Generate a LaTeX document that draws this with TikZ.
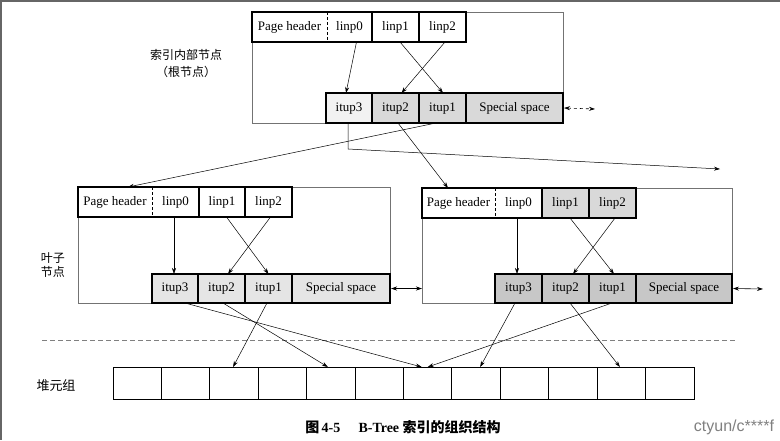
\documentclass[tikz,border=0pt]{standalone}
\usepackage{fontspec}
\setmainfont{Liberation Serif}
\newfontfamily\cjk{Noto Sans CJK SC}
\newfontfamily\wmfont{Liberation Sans}
\usetikzlibrary{arrows.meta}
\begin{document}
\begin{tikzpicture}[x=1pt,y=-1pt,
  cellbox/.style={draw, fill=white, line width=1.1pt, inner sep=0pt, outer sep=0pt, anchor=north west, minimum height=30pt, text height=9pt, text depth=3pt, font=\fontsize{13}{15}\selectfont},
  plaincell/.style={cellbox, draw=none},
  framebox/.style={draw=black!55, line width=0.6pt, inner sep=0pt, outer sep=0pt, anchor=north west},
  heapcell/.style={draw, line width=1pt, inner sep=0pt, outer sep=0pt, anchor=north west, minimum width=48.42pt, minimum height=32pt},
  arr/.style={line width=0.5pt, -{Stealth[length=6pt,width=4pt]}},
  dblarr/.style={line width=0.6pt, {Stealth[length=6pt,width=4pt]}-{Stealth[length=6pt,width=4pt]}},
  pairbox/.style={draw, line width=1.1pt},
  divider/.style={dashed, line width=0.5pt, dash pattern=on 3pt off 2pt},
  sepline/.style={draw=black!50, line width=0.6pt, dash pattern=on 5pt off 3pt},
  lab/.style={font=\cjk\fontsize{12}{14}\selectfont, inner sep=0pt},
  shA/.style={fill=black!15},
  shB/.style={fill=black!10},
  shC/.style={fill=black!22},
]
\useasboundingbox (0,0) rectangle (780,440);
\draw[black!60, line width=1.5pt] (0,0.75) -- (780,0.75);
\draw[black!60, line width=1.5pt] (0.75,0) -- (0.75,440);

% ---------- root (internal) node ----------
\node[framebox, minimum width=311pt, minimum height=111pt] (tframe) at (252,12) {};
\node[plaincell, minimum width=75pt] (t-ph) at (252,12) {Page header};
\node[plaincell, minimum width=45pt] (t-l0) at (327,12) {linp0};
\draw[pairbox] (t-ph.north west) rectangle (t-l0.south east);
\draw[divider] (t-l0.north west) -- (t-l0.south west);
\node[cellbox, minimum width=47pt] (t-l1) at (372,12) {linp1};
\node[cellbox, minimum width=47pt] (t-l2) at (419,12) {linp2};
\node[cellbox, minimum width=46pt, fill=black!5] (t-i3) at (326,93) {itup3};
\node[cellbox, minimum width=47pt, shA] (t-i2) at (372,93) {itup2};
\node[cellbox, minimum width=47pt, shA] (t-i1) at (419,93) {itup1};
\node[cellbox, minimum width=97pt, shA] (t-sp) at (466,93) {Special space};
\draw[arr] ([xshift=7pt]t-l0.south) -- ([xshift=-3pt]t-i3.north);
\draw[arr] ([xshift=4.5pt]t-l1.south) -- ([xshift=0.5pt]t-i1.north);
\draw[arr] ([xshift=2.5pt]t-l2.south) -- ([xshift=6pt]t-i2.north);
\coordinate (tout) at (595,109);
\draw[dblarr, dashed, dash pattern=on 3pt off 3pt] ([xshift=1pt]t-sp.east) -- (tout);
\node[lab] (tlab1) at (186,55) {索引内部节点};
\node[lab] (tlab2) at (186,72) {（根节点）};

% ---------- left leaf ----------
\node[framebox, minimum width=312pt, minimum height=116pt] (aframe) at (78,187) {};
\node[plaincell, minimum width=74pt] (a-ph) at (78,187) {Page header};
\node[plaincell, minimum width=47pt] (a-l0) at (152,187) {linp0};
\draw[pairbox] (a-ph.north west) rectangle (a-l0.south east);
\draw[divider] (a-l0.north west) -- (a-l0.south west);
\node[cellbox, minimum width=46pt] (a-l1) at (199,187) {linp1};
\node[cellbox, minimum width=47pt] (a-l2) at (245,187) {linp2};
\node[cellbox, minimum width=46pt, minimum height=29pt, shB] (a-i3) at (152,274) {itup3};
\node[cellbox, minimum width=47pt, minimum height=29pt, shB] (a-i2) at (198,274) {itup2};
\node[cellbox, minimum width=47pt, minimum height=29pt, shB] (a-i1) at (245,274) {itup1};
\node[cellbox, minimum width=98pt, minimum height=29pt, shB] (a-sp) at (292,274) {Special space};
\draw[arr] ([xshift=-1.5pt]a-l0.south) -- ([xshift=-1pt]a-i3.north);
\draw[arr] ([xshift=4.5pt]a-l1.south) -- ([xshift=0pt]a-i1.north);
\draw[arr] ([xshift=2pt]a-l2.south) -- ([xshift=6.5pt]a-i2.north);
\node[lab, align=center] (alab) at (53,265) {叶子\\节点};

% ---------- right leaf ----------
\node[framebox, minimum width=310pt, minimum height=115pt] (bframe) at (422,188) {};
\node[plaincell, minimum width=73pt] (b-ph) at (422,188) {Page header};
\node[plaincell, minimum width=47pt] (b-l0) at (495,188) {linp0};
\draw[pairbox] (b-ph.north west) rectangle (b-l0.south east);
\draw[divider] (b-l0.north west) -- (b-l0.south west);
\node[cellbox, minimum width=47pt, shA] (b-l1) at (542,188) {linp1};
\node[cellbox, minimum width=47pt, shA] (b-l2) at (589,188) {linp2};
\node[cellbox, minimum width=47pt, minimum height=29pt, shC] (b-i3) at (495,274) {itup3};
\node[cellbox, minimum width=47pt, minimum height=29pt, shC] (b-i2) at (542,274) {itup2};
\node[cellbox, minimum width=47pt, minimum height=29pt, shC] (b-i1) at (589,274) {itup1};
\node[cellbox, minimum width=96pt, minimum height=29pt, shC] (b-sp) at (636,274) {Special space};
\draw[arr] ([xshift=-1.5pt]b-l0.south) -- ([xshift=-1.5pt]b-i3.north);
\draw[arr] ([xshift=4.5pt]b-l1.south) -- ([xshift=1.5pt]b-i1.north);
\draw[arr] ([xshift=2.5pt]b-l2.south) -- ([xshift=7.5pt]b-i2.north);
\coordinate (bout) at (763,289);
\draw[dblarr] ([xshift=1pt]b-sp.east) -- (bout);

% left leaf <-> right leaf
\draw[dblarr] ([xshift=1pt]a-sp.east) -- (a-sp.east -| bframe.west);

% ---------- root -> leaves ----------
\draw[arr] ([xshift=-6.5pt]t-i1.south) -- ([xshift=13pt]a-ph.north);
\draw[arr] ([xshift=2.5pt]t-i2.south) -- ([xshift=-10.5pt]b-ph.north);
\coordinate (tfar) at (720,169);
\draw[arr] ([xshift=-1pt]t-i3.south) -- ++(0,26) -- (tfar);

% ---------- separator ----------
\coordinate (sepL) at (42,340);
\coordinate (sepR) at (737,340);
\draw[sepline] (sepL) -- (sepR);

% ---------- heap tuples ----------
\foreach \i in {1,...,12} {
  \node[heapcell] (h\i) at ({113+(\i-1)*48.42},367) {};
}
\node[lab, font=\cjk\fontsize{13}{15}\selectfont] (hlab) at (56,386) {堆元组};

% leaf -> heap
\draw[arr] ([xshift=10pt]a-i3.south) -- ([xshift=-6pt]h7.north);
\draw[arr] ([xshift=1.5pt]a-i2.south) -- ([xshift=-3pt]h5.north);
\draw[arr] ([xshift=-1.5pt]a-i1.south) -- ([xshift=-1pt]h3.north);
\draw[arr] ([xshift=-3.5pt]b-i3.south) -- ([xshift=4pt]h8.north);
\draw[arr] ([xshift=4.5pt]b-i2.south) -- ([xshift=-1.5pt]h11.north);
\draw[arr] ([xshift=-0.5pt]b-i1.south) -- ([xshift=0pt]h7.north);

% ---------- caption & mark ----------
\node[inner sep=0pt, font=\fontsize{14}{16}\selectfont] (cap) at (403,427)
  {{\cjk\bfseries 图}\,{\bfseries 4-5}\hspace{1.3em}{\bfseries B-Tree} {\cjk\bfseries 索引的组织结构}};
\node[inner sep=0pt, text=black!50, font=\wmfont\fontsize{16}{18}\selectfont] (wm) at (734,427) {ctyun/c****f};
\end{tikzpicture}
\end{document}
